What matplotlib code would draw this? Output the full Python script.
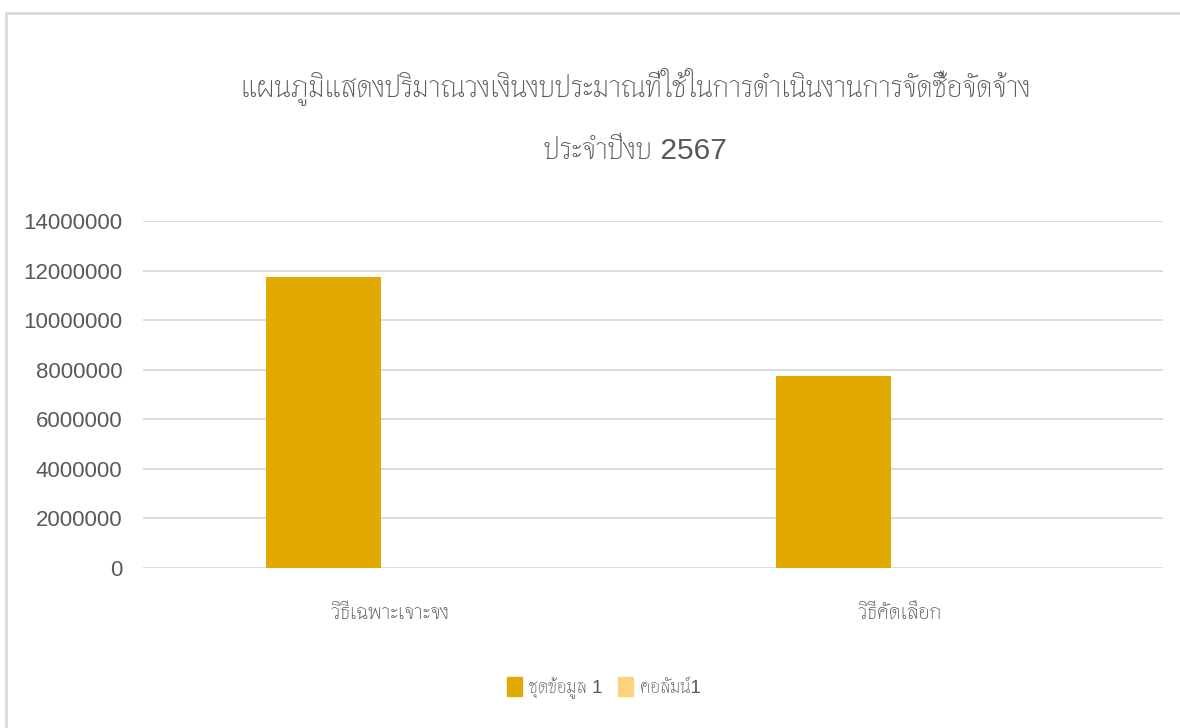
import matplotlib
matplotlib.use("Agg")
import matplotlib.pyplot as plt
from matplotlib.patches import Rectangle, Patch
import numpy as np

# chart data
categories = ['วิธีเฉพาะเจาะจง', 'วิธีคัดเลือก']
series1 = [11750000, 7750000]
series2 = [0, 0]
series_names = ['ชุดข้อมูล 1', 'คอลัมน์1']
yticks = [0, 2000000, 4000000, 6000000, 8000000, 10000000, 12000000, 14000000]
title = 'แผนภูมิแสดงปริมาณวงเงินงบประมาณที่ใช้ในการดำเนินงานการจัดซื้อจัดจ้าง\n\nประจำปีงบ 2567'

# Thai glyphs from Thasadith, digits from Liberation Sans (narrower)
plt.rcParams['font.family'] = ['Liberation Sans', 'Thasadith', 'DejaVu Sans']
grey = '#595959'

fig = plt.figure(figsize=(11.8, 7.28), dpi=100)
# outer chart border
fig.patches.append(Rectangle((6 / 1180, -0.1), 1.2, 1 - 13 / 728 + 0.1,
                             transform=fig.transFigure, fill=False,
                             edgecolor='#D9D9D9', linewidth=2))

ax = fig.add_axes([143 / 1180, 1 - 568 / 728, (1163 - 143) / 1180, (568 - 221) / 728])

x = np.arange(len(categories))
w = 0.224
ax.bar(x - 0.146, series1, width=w, color='#E2AA00', label=series_names[0], zorder=3)
ax.bar(x + 0.078, series2, width=w, color='#FFD27F', label=series_names[1], zorder=3)

ax.set_xlim(-0.5, 1.5)
ax.set_ylim(0, 14000000)
ax.set_yticks(yticks)
ax.set_yticklabels([str(v) for v in yticks])
ax.set_xticks(x - 0.015)
ax.set_xticklabels(categories)
ax.grid(axis='y', color='#D9D9D9', linewidth=1.3, zorder=0)
ax.tick_params(axis='y', length=0, pad=15, labelsize=16, labelcolor=grey)
ax.tick_params(axis='x', length=0, pad=25, labelsize=15.5, labelcolor=grey)
for s in ax.spines.values():
    s.set_visible(False)

fig.text(0.5386, 1 - 116 / 728, title, ha='center', va='center',
         fontsize=21.5, color=grey, linespacing=1.1)

handles = [Patch(color='#E2AA00'), Patch(color='#FFD27F')]
fig.legend(handles, series_names, loc='center', bbox_to_anchor=(0.512, 1 - 688 / 728),
           ncol=2, frameon=False, fontsize=13.5, labelcolor=grey,
           handlelength=0.75, handleheight=1.2, columnspacing=0.85, handletextpad=0.4)

fig.savefig('out.png', dpi=100)
